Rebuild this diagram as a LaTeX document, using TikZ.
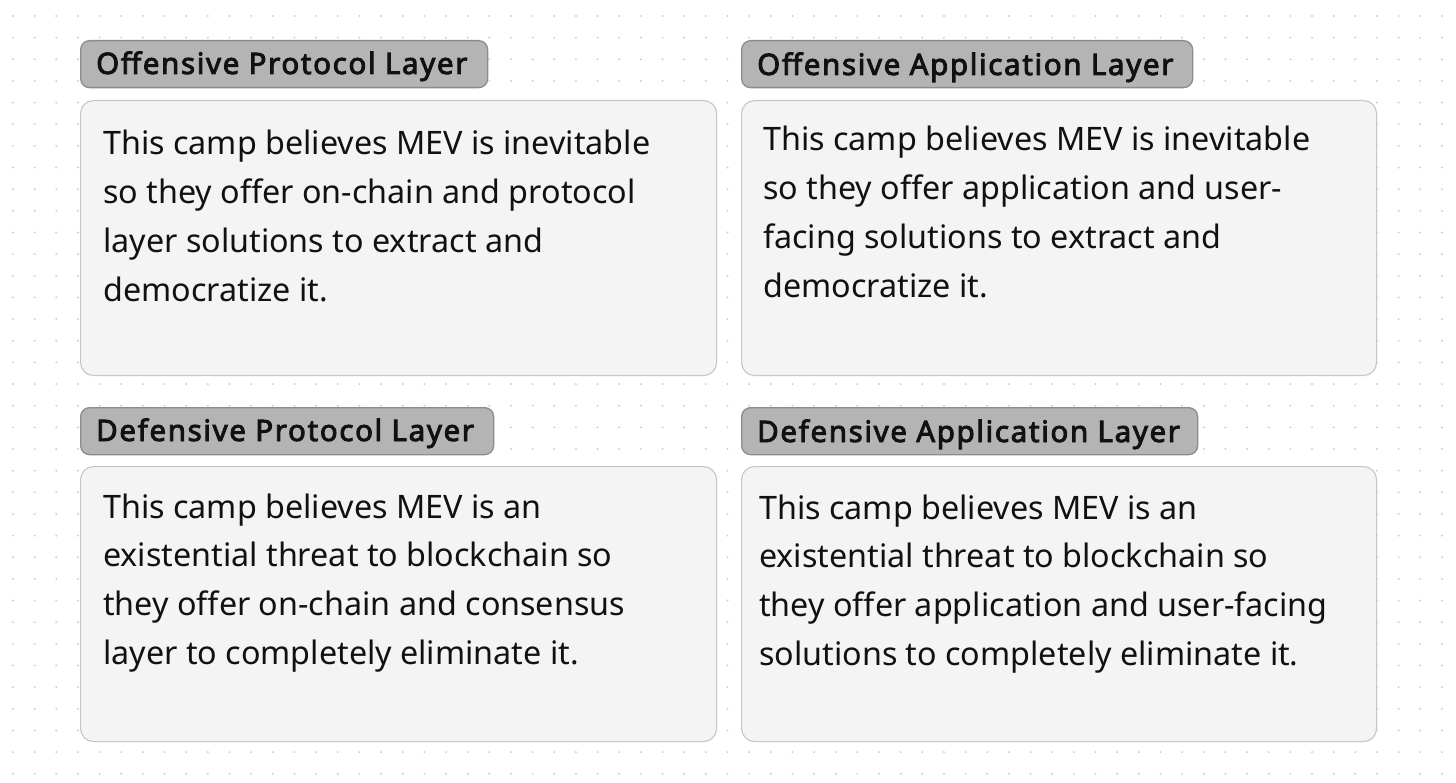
\documentclass[tikz,border=0pt]{standalone}
\usepackage{fontspec}
\setmainfont{Noto Sans}
\newfontfamily\labfont[FakeBold=3, LetterSpace=5.6]{Noto Sans}
\definecolor{dotc}{HTML}{CFCFCF}
\definecolor{labfill}{HTML}{B4B4B4}
\definecolor{labdraw}{HTML}{8C8C8C}
\definecolor{bodyfill}{HTML}{F4F4F4}
\definecolor{bodydraw}{HTML}{C6C6C6}
\definecolor{txt}{HTML}{111111}
\tikzset{
  labbox/.style={draw=labdraw, fill=labfill, line width=1.3pt, rounded corners=9pt, inner sep=0pt, anchor=north west},
  bodybox/.style={draw=bodydraw, fill=bodyfill, line width=1.1pt, rounded corners=13pt, inner sep=0pt, anchor=north west},
  labtext/.style={inner sep=0pt, anchor=base west, text=txt, font=\labfont\fontsize{29.5}{35}\selectfont},
  bodytext/.style={inner sep=0pt, anchor=base west, text=txt, align=left, font=\fontsize{32.3}{48.7}\selectfont},
}
\begin{document}
\begin{tikzpicture}[x=1pt,y=-1pt]
\fill[white] (0,0) rectangle (1456,783);
\useasboundingbox (0,0) rectangle (1456,783);
\foreach \i in {0,...,66}{
  \foreach \j in {0,...,35}{
    \fill[dotc] ({13+21.65*\i},{16+21.65*\j}) circle (1.1pt);
  }
}
% top-left
\node[labbox, minimum width=407pt, minimum height=47pt] (l1) at (80,40) {};
\node[labtext] (lt1) at (96,74) {Offensive Protocol Layer};
\node[bodybox, minimum width=636pt, minimum height=275pt] (b1) at (80,100) {};
\node[bodytext] (bt1) at (103,301.1) {This camp believes MEV is inevitable\\so they offer on-chain and protocol\\layer solutions to extract and\\democratize it.};
% top-right
\node[labbox, minimum width=451pt, minimum height=47pt] (l2) at (741,40) {};
\node[labtext] (lt2) at (757,75) {Offensive Application Layer};
\node[bodybox, minimum width=635pt, minimum height=275pt] (b2) at (741,100) {};
\node[bodytext] (bt2) at (763,297.1) {This camp believes MEV is inevitable\\so they offer application and user-\\facing solutions to extract and\\democratize it.};
% bottom-left
\node[labbox, minimum width=413pt, minimum height=47pt] (l3) at (80,407) {};
\node[labtext] (lt3) at (96,441) {Defensive Protocol Layer};
\node[bodybox, minimum width=636pt, minimum height=275pt] (b3) at (80,466) {};
\node[bodytext] (bt3) at (103,664.1) {This camp believes MEV is an\\existential threat to blockchain so\\they offer on-chain and consensus\\layer to completely eliminate it.};
% bottom-right
\node[labbox, minimum width=456pt, minimum height=47pt] (l4) at (741,407) {};
\node[labtext] (lt4) at (757,442) {Defensive Application Layer};
\node[bodybox, minimum width=635pt, minimum height=275pt] (b4) at (741,466) {};
\node[bodytext] (bt4) at (759,665.1) {This camp believes MEV is an\\existential threat to blockchain so\\they offer application and user-facing\\solutions to completely eliminate it.};
\end{tikzpicture}
\end{document}
